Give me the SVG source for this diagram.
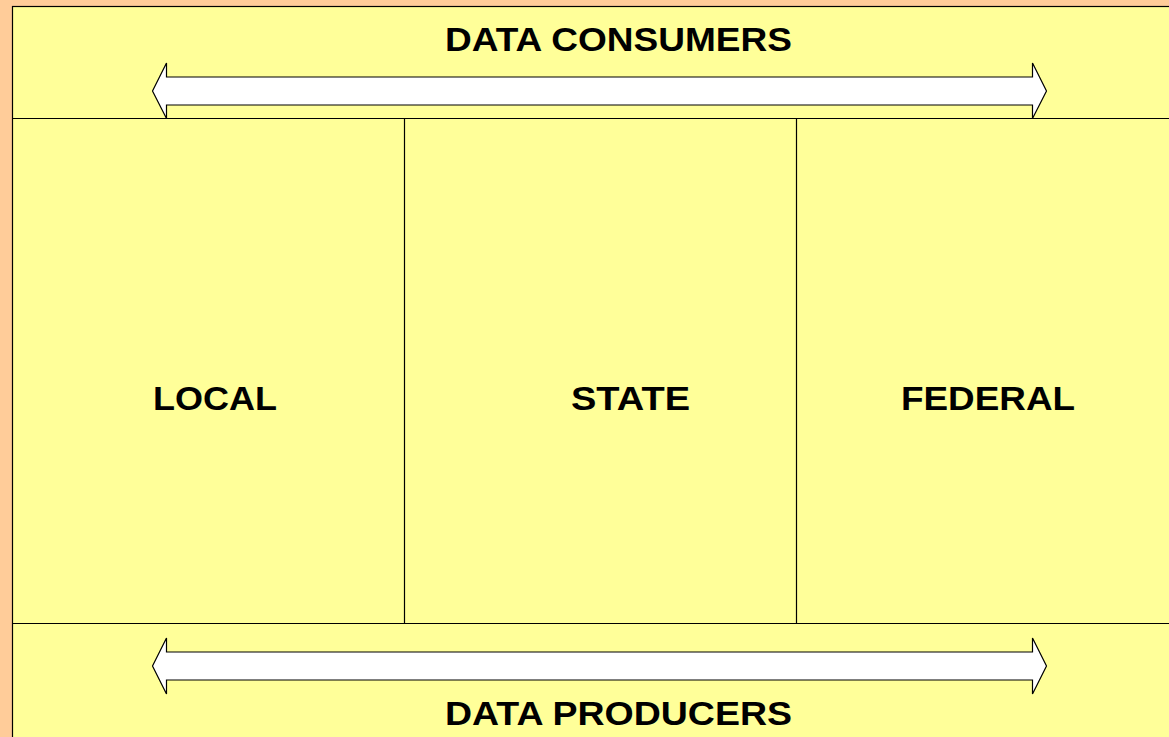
<svg xmlns="http://www.w3.org/2000/svg" width="1169" height="737" viewBox="0 0 1169 737">
<style>
.panel{fill:#FFFF99;stroke:#000;stroke-width:1.2}
.div{stroke:#000;stroke-width:1.2;fill:none}
.arrow{fill:#FFFFFF;stroke:#000;stroke-width:1.2;stroke-linejoin:miter}
.lbl{font-family:"Liberation Sans",Arial,sans-serif;font-weight:bold;font-size:34px;fill:#000;text-anchor:middle}
</style>
<rect x="0" y="0" width="1169" height="737" fill="#FFCC99"/>
<g id="frame">
<rect class="panel" x="12.5" y="6.5" width="1170" height="740"/>
</g>
<g id="consumers">
<text class="lbl" x="618.5" y="51" textLength="347" lengthAdjust="spacingAndGlyphs">DATA CONSUMERS</text>
</g>
<g id="producers">
<text class="lbl" x="618.5" y="725" textLength="347" lengthAdjust="spacingAndGlyphs">DATA PRODUCERS</text>
</g>
<g id="local">
<text class="lbl" x="215" y="410" textLength="124" lengthAdjust="spacingAndGlyphs">LOCAL</text>
</g>
<g id="state">
<text class="lbl" x="630.5" y="410" textLength="119" lengthAdjust="spacingAndGlyphs">STATE</text>
</g>
<g id="federal">
<text class="lbl" x="988" y="410" textLength="174" lengthAdjust="spacingAndGlyphs">FEDERAL</text>
</g>
<g id="connectors">
<line class="div" x1="12.5" y1="118.5" x2="1169" y2="118.5"/>
<line class="div" x1="12.5" y1="623.5" x2="1169" y2="623.5"/>
<line class="div" x1="404.5" y1="118.5" x2="404.5" y2="623.5"/>
<line class="div" x1="796.5" y1="118.5" x2="796.5" y2="623.5"/>
<polygon class="arrow" points="152.5,91 166.5,63 166.5,77 1032.5,77 1032.5,63 1046.5,91 1032.5,118.5 1032.5,105 166.5,105 166.5,118.5"/>
<polygon class="arrow" points="152.5,666 166.5,638 166.5,652 1032.5,652 1032.5,638 1046.5,666 1032.5,694 1032.5,680 166.5,680 166.5,694"/>
</g>
</svg>
